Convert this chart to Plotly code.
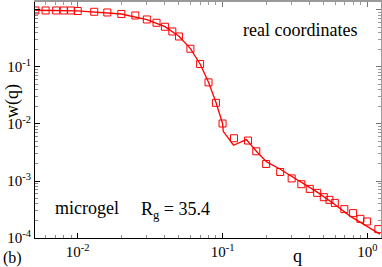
import plotly.graph_objects as go

# simulation data (open squares)
q_data = [0.0051, 0.006, 0.0071, 0.008, 0.009, 0.01, 0.013, 0.016, 0.02, 0.025,
          0.03, 0.035, 0.04, 0.045, 0.05, 0.06, 0.07, 0.08, 0.09, 0.1,
          0.12, 0.15, 0.171, 0.2, 0.25, 0.3, 0.35, 0.4, 0.45, 0.5,
          0.547, 0.596, 0.693, 0.797, 0.895, 0.995, 1.19]
w_data = [0.98, 0.98, 0.98, 0.98, 0.98, 0.961, 0.93, 0.904, 0.851, 0.801,
          0.682, 0.597, 0.508, 0.42, 0.343, 0.209, 0.113, 0.0537, 0.0235, 0.0102,
          0.00562, 0.00512, 0.00332, 0.00199, 0.00144, 0.00111, 0.000879, 0.000727, 0.000619, 0.00052,
          0.000467, 0.000413, 0.000321, 0.000273, 0.000217, 0.000195, 0.000143]

# theory curve (solid line)
q_line = [0.0051, 0.01, 0.02, 0.03, 0.04, 0.05, 0.06, 0.07, 0.08, 0.09, 0.1,
          0.1011, 0.119, 0.146, 0.173, 0.202, 0.25, 0.343, 0.448, 0.583, 0.76, 1.22]
w_line = [0.99, 0.965, 0.85, 0.68, 0.51, 0.345, 0.21, 0.113, 0.054, 0.024, 0.0102,
          0.00745, 0.00424, 0.00533, 0.00323, 0.00216, 0.00161, 0.000993, 0.000644, 0.000404, 0.000242, 0.000117]

x_ticks = [0.01, 0.1, 1]
x_ticktext = ["10<sup>-2</sup>", "10<sup>-1</sup>", "10<sup>0</sup>"]
y_ticks = [1e-4, 1e-3, 1e-2, 1e-1, 1]
y_ticktext = ["10<sup>-4</sup>", "10<sup>-3</sup>", "10<sup>-2</sup>", "10<sup>-1</sup>", "10<sup>0</sup>"]

RED = "#ff0000"
FONT = "Liberation Serif, Times New Roman, serif"
xr = [-2.295, 0.094]
yr = [-4, 0.14]

fig = go.Figure()
fig.add_trace(go.Scatter(x=q_line, y=w_line, mode="lines",
                         line=dict(color=RED, width=1.3), showlegend=False))
fig.add_trace(go.Scatter(x=q_data, y=w_data, mode="markers",
                         marker=dict(symbol="square-open", size=7, color=RED,
                                     line=dict(width=1, color=RED)),
                         showlegend=False))
# dummy trace for top/right mirror axes
fig.add_trace(go.Scatter(x=[0.1], y=[0.1], xaxis="x2", yaxis="y2", mode="markers",
                         marker=dict(opacity=0), showlegend=False, hoverinfo="skip"))

axis_common = dict(type="log", showgrid=False, zeroline=False, ticks="inside", automargin=False)
fig.update_layout(
    width=382, height=267,
    margin=dict(l=35, r=1, t=2, b=29),
    paper_bgcolor="white", plot_bgcolor="white",
    font=dict(family=FONT, size=15, color="black"),
    xaxis=dict(**axis_common, range=xr, tickvals=x_ticks, ticktext=x_ticktext,
               showline=True, linecolor="black", linewidth=1, ticklen=5, tickcolor="black",
               minor=dict(ticks="inside", ticklen=3, tickcolor="#888888", dtick="D1"),
               tickfont=dict(family=FONT, size=15)),
    yaxis=dict(**axis_common, range=yr, tickvals=y_ticks, ticktext=y_ticktext,
               showline=True, linecolor="black", linewidth=1, ticklen=5, tickcolor="black",
               minor=dict(ticks="inside", ticklen=3, tickcolor="#888888", dtick="D1"),
               tickfont=dict(family=FONT, size=15)),
    xaxis2=dict(**axis_common, range=xr, overlaying="x", side="top", showticklabels=False,
                tickvals=x_ticks, showline=True, linecolor="#999999", linewidth=2,
                ticklen=5, tickcolor="#777777",
                minor=dict(ticks="inside", ticklen=3, tickcolor="#999999", dtick="D1")),
    yaxis2=dict(**axis_common, range=yr, overlaying="y", side="right", showticklabels=False,
                tickvals=y_ticks, showline=True, linecolor="#999999", linewidth=2,
                ticklen=5, tickcolor="#777777",
                minor=dict(ticks="inside", ticklen=3, tickcolor="#999999", dtick="D1")),
)

ann = [
    dict(text="real coordinates", x=0.767, y=0.882, size=18),
    dict(text="microgel", x=0.149, y=0.127, size=18),
    dict(text="q", x=0.759, y=-0.076, size=18),
    dict(text="(b)", x=-0.064, y=-0.085, size=16),
]
for a in ann:
    fig.add_annotation(text=a["text"], x=a["x"], y=a["y"], xref="paper", yref="paper",
                       showarrow=False, xanchor="center", yanchor="middle",
                       font=dict(family=FONT, size=a["size"], color="black"))
fig.add_annotation(text="R<sub>g</sub> = 35.4", x=0.302, y=0.115, xref="paper", yref="paper",
                   showarrow=False, xanchor="left", yanchor="middle",
                   font=dict(family=FONT, size=18, color="black"))
fig.add_annotation(text="w(q)", x=-0.067, y=0.58, xref="paper", yref="paper",
                   showarrow=False, textangle=-90, xanchor="center", yanchor="middle",
                   font=dict(family=FONT, size=18, color="black"))

fig.write_html("out.html", config={"displayModeBar": False},
               post_script="document.body.style.margin='0';")
